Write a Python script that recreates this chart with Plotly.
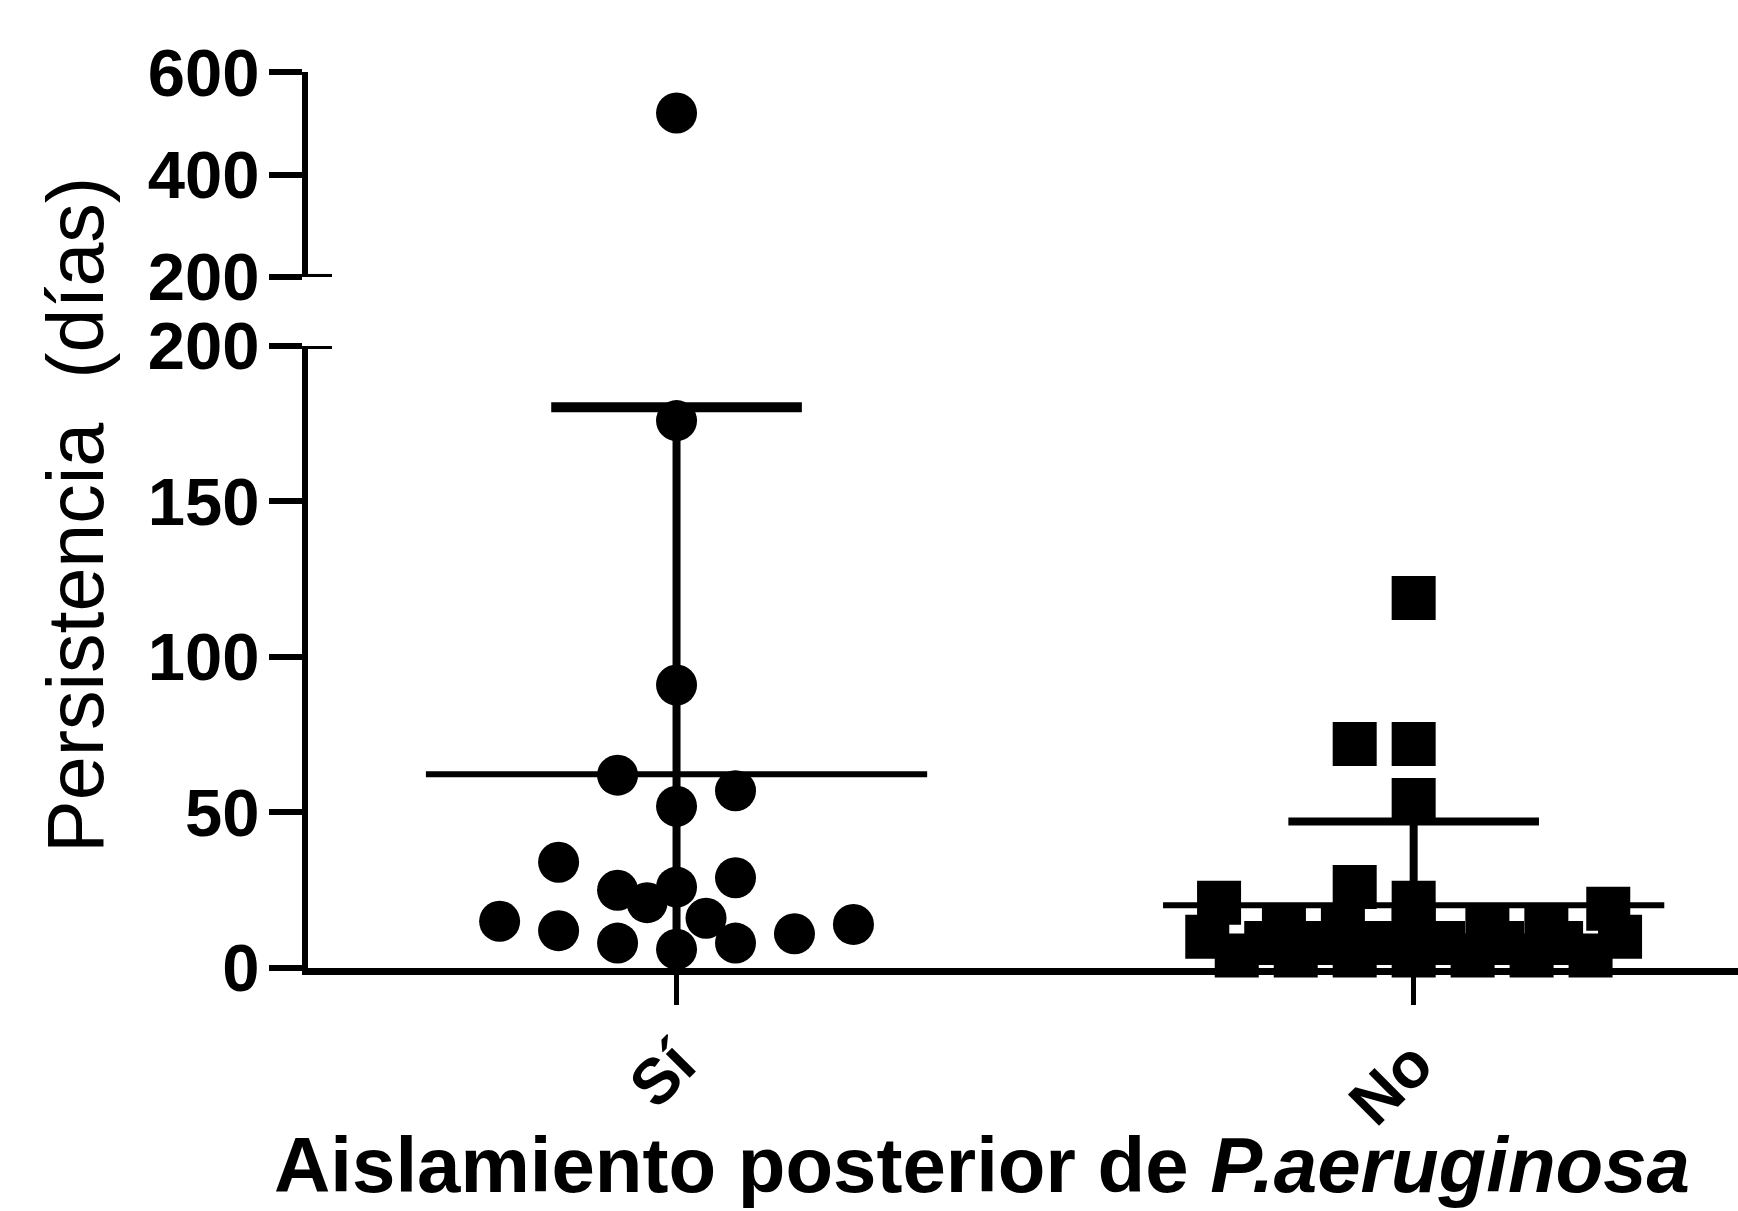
import numpy as np
import plotly.graph_objects as go

# ---------------- data ----------------
categories = ["Sí", "No"]

# persistence (days), group "Sí" (circles)
si_values = [520, 176, 91, 62, 57, 52, 34, 29, 25, 21, 26, 16, 15, 12, 8, 6, 8, 11, 14]
# horizontal slot of each point in the column scatter
si_slots = [0, 0, 0, -1, 1, 0, -2, 1, -1, -0.5, 0, 0.5, -3, -2, -1, 0, 1, 2, 3]

# persistence (days), group "No" (squares)
no_values = [119, 72, 72, 54, 26, 21, 21, 19,
             13, 13, 13, 13, 13,
             10, 8, 8, 8, 8, 8, 8, 10,
             4, 4, 4, 4, 4, 4, 4]
no_slots = [0, -1, 0, 0, -1, -3.3, 0, 3.3,
            -2.2, -1.2, 0, 1.25, 2.25,
            -3.5, -2.5, -1.5, -0.5, 0.5, 1.5, 2.5, 3.5,
            -3, -2, -1, 0, 1, 2, 3]

lower_ticks = [0, 50, 100, 150, 200]
upper_ticks = [200, 400, 600]
axis_break = 200

# ---------------- styling ----------------
FONT = "Liberation Sans, Arial, sans-serif"
W, H = 1738, 1211
SLOT = 0.08          # category units per scatter slot
MEAN_HALF = 0.34
CAP_HALF = 0.17
X_DOMAIN = [0.1772, 1.0]
Y_LOW_DOMAIN = [0.2007, 0.7143]
Y_UP_DOMAIN = [0.7713, 0.9405]

fig = go.Figure()

groups = [
    (si_values, si_slots, "circle", 41, 10),
    (no_values, no_slots, "square", 44, 8),
]

for i, (vals, slots, symbol, msize, capw) in enumerate(groups):
    vals = np.asarray(vals, dtype=float)
    slots = np.asarray(slots, dtype=float)
    xs = i + slots * SLOT
    mean = vals.mean()
    sd = vals.std(ddof=1)

    low = vals <= axis_break
    fig.add_trace(go.Scatter(
        x=xs[low], y=vals[low], mode="markers", yaxis="y", xaxis="x",
        marker=dict(symbol=symbol, size=msize, color="black", line=dict(width=0)),
        cliponaxis=False, hoverinfo="y"))
    if (~low).any():
        fig.add_trace(go.Scatter(
            x=xs[~low], y=vals[~low], mode="markers", yaxis="y2", xaxis="x",
            marker=dict(symbol=symbol, size=msize, color="black", line=dict(width=0)),
            cliponaxis=False, hoverinfo="y"))

    # SD vertical line
    fig.add_trace(go.Scatter(
        x=[i, i], y=[mean - sd, mean + sd], mode="lines", yaxis="y",
        line=dict(color="black", width=8), hoverinfo="skip"))
    # mean line
    fig.add_trace(go.Scatter(
        x=[i - MEAN_HALF, i + MEAN_HALF], y=[mean, mean], mode="lines", yaxis="y",
        line=dict(color="black", width=6), hoverinfo="skip"))
    # SD cap
    fig.add_trace(go.Scatter(
        x=[i - CAP_HALF, i + CAP_HALF], y=[mean + sd, mean + sd], mode="lines", yaxis="y",
        line=dict(color="black", width=capw), hoverinfo="skip"))

tickfont = dict(family=FONT, size=67, color="black", weight="bold")
yaxis_common = dict(
    showline=True, linewidth=6, linecolor="black",
    ticks="outside", ticklen=33, tickwidth=6, tickcolor="black",
    tickfont=tickfont, ticklabelstandoff=-4,
    showgrid=False, zeroline=False,
    anchor="x", automargin=False, fixedrange=True,
)

fig.update_layout(
    width=W, height=H,
    margin=dict(l=0, r=0, t=0, b=0),
    paper_bgcolor="white", plot_bgcolor="white",
    showlegend=False,
    xaxis=dict(
        domain=X_DOMAIN, range=[-0.5, 1.44], anchor="y",
        showline=True, linewidth=7, linecolor="black",
        ticks="outside", ticklen=30, tickwidth=5, tickcolor="black",
        tickvals=list(range(len(categories))), ticktext=categories,
        tickangle=-45, tickfont=dict(family=FONT, size=64, color="black", weight="bold"),
        ticklabelstandoff=-4,
        showgrid=False, zeroline=False, automargin=False, fixedrange=True,
    ),
    yaxis=dict(domain=Y_LOW_DOMAIN, range=[0, axis_break], tickvals=lower_ticks, **yaxis_common),
    yaxis2=dict(domain=Y_UP_DOMAIN, range=[axis_break, 600], tickvals=upper_ticks, **yaxis_common),
)

# small right-hand extensions of the ticks at the axis break
for yref in ["y", "y2"]:
    fig.add_shape(type="line", xref="paper", yref=yref,
                  x0=X_DOMAIN[0], x1=X_DOMAIN[0] + 24 / W, y0=axis_break, y1=axis_break,
                  line=dict(color="black", width=6))

fig.add_annotation(
    text="Aislamiento posterior de <i>P.aeruginosa</i>",
    xref="paper", yref="paper", x=272 / W, y=1 - 1165 / H,
    xanchor="left", yanchor="middle", showarrow=False,
    font=dict(family=FONT, size=78, color="black", weight="bold"))

fig.add_annotation(
    text="Persistencia\u00a0\u00a0(días)",
    xref="paper", yref="paper", x=76 / W, y=1 - 515 / H,
    xanchor="center", yanchor="middle", showarrow=False, textangle=-90,
    font=dict(family=FONT, size=79, color="black"))

fig.write_html("out.html", config={"displayModeBar": False},
               post_script="document.body.style.margin='0';")
